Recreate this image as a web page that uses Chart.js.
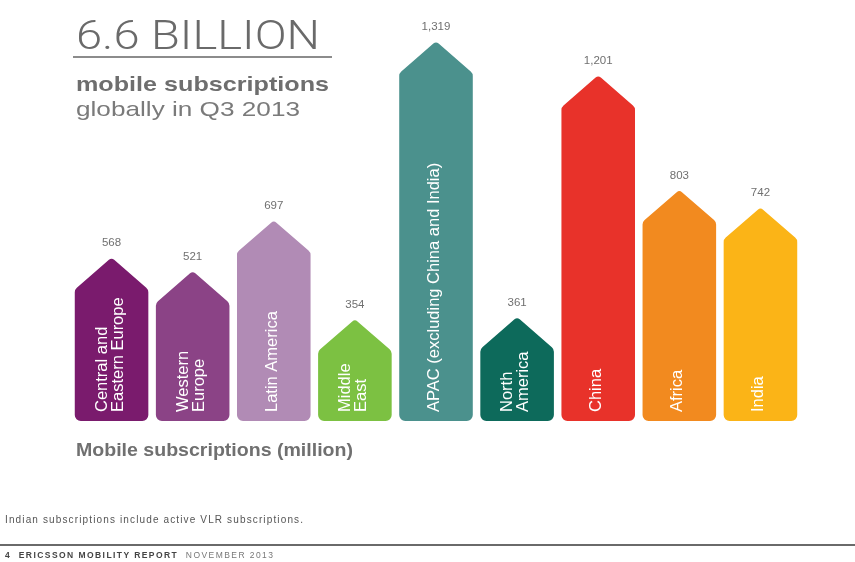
<!DOCTYPE html>
<html><head><meta charset="utf-8">
<script src="https://cdn.jsdelivr.net/npm/chart.js@4"></script>
<style>
html,body{margin:0;padding:0;background:#fff;}
#wrap{position:relative;width:855px;height:562px;overflow:hidden;background:#fff;}
#c{position:absolute;left:0;top:0;}
.t{position:absolute;white-space:nowrap;transform-origin:0 0;line-height:1;}
</style></head><body>
<div id="wrap">
<canvas id="c" width="855" height="562"></canvas>
<div class="t" id="big" style="left:76px;top:12px;font:300 40px Roboto;color:#6a6a6a">6.6 BILLION</div>
<div style="position:absolute;left:73px;top:56px;width:259px;height:2px;background:#8c8c8c"></div>
<div class="t" id="sub1" style="left:76px;top:72px;font:bold 21px 'Liberation Sans';color:#6e6e6e">mobile subscriptions</div>
<div class="t" id="sub2" style="left:76px;top:97px;font:21px 'Liberation Sans';color:#7a7a7a">globally in Q3 2013</div>
<div class="t" id="axis" style="left:76px;top:439px;font:bold 19px 'Liberation Sans';color:#707070">Mobile subscriptions (million)</div>
<div class="t" id="note" style="left:5px;top:513.5px;font:10px 'Liberation Sans';color:#555">Indian subscriptions include active VLR subscriptions.</div>
<div style="position:absolute;left:0;top:544px;width:855px;height:2px;background:#6a6a6a"></div>
<div class="t" id="foot" style="left:5px;top:550px;font:8.5px 'Liberation Sans';color:#444"><b>4&nbsp;&nbsp;ERICSSON MOBILITY REPORT</b>&nbsp;&nbsp;<span style="color:#777">NOVEMBER 2013</span></div>
</div>
<script>
// ---- data ----
const categories = [
  ["Central and", "Eastern Europe"],
  ["Western", "Europe"],
  ["Latin America"],
  ["Middle", "East"],
  ["APAC (excluding China and India)"],
  ["North", "America"],
  ["China"],
  ["Africa"],
  ["India"]
];
const subscriptions = [568, 521, 697, 354, 1319, 361, 1201, 803, 742];
const barColors = ["#7a1b6d", "#8b4386", "#b18bb5", "#7cc142", "#4b918d", "#0d6a5b", "#e8322a", "#f28a1f", "#fbb417"];

// ---- arrow-shaped bars drawn from the library's bar elements ----
const arrowPlugin = {
  id: 'arrows',
  afterDatasetsDraw(chart) {
    const ctx = chart.ctx;
    const meta = chart.getDatasetMeta(0);
    meta.data.forEach((bar, i) => {
      const p = bar.getProps(['x', 'y', 'base', 'width'], true);
      const x = p.x, y = p.y, base = p.base, w = p.width;
      const l = x - w / 2, r = x + w / 2, sh = y + w * 0.435;
      ctx.save();
      ctx.beginPath();
      ctx.moveTo(x, base);
      ctx.arcTo(r, base, r, sh, 6);
      ctx.arcTo(r, sh, x, y, 6);
      ctx.arcTo(x, y, l, sh, 4);
      ctx.arcTo(l, sh, l, base, 6);
      ctx.arcTo(l, base, x, base, 6);
      ctx.closePath();
      ctx.fillStyle = barColors[i];
      ctx.fill();
      ctx.restore();

      // value label
      ctx.save();
      ctx.translate(x, y - 14);
      ctx.scale(1.15, 1);
      ctx.font = '10px "Liberation Sans"';
      ctx.fillStyle = '#707070';
      ctx.textAlign = 'center';
      ctx.textBaseline = 'middle';
      ctx.fillText(subscriptions[i].toLocaleString('en-US'), 0, 0);
      ctx.restore();

      // rotated category label
      const lines = categories[i];
      ctx.save();
      ctx.translate(x - 1.5, base - 9);
      ctx.rotate(-Math.PI / 2);
      ctx.font = '16.5px "Liberation Sans"';
      ctx.fillStyle = '#ffffff';
      ctx.textAlign = 'left';
      ctx.textBaseline = 'middle';
      const lh = 16;
      lines.forEach((t, k) => {
        ctx.fillText(t, 0, (k - (lines.length - 1) / 2) * lh);
      });
      ctx.restore();
    });
  }
};

function fit(id, w, mode) {
  const el = document.getElementById(id);
  const cur = el.getBoundingClientRect().width;
  if (mode === 'ls') {
    const n = el.textContent.length - 1;
    el.style.letterSpacing = ((w - cur) / n) + 'px';
  } else {
    el.style.transform = 'scaleX(' + (w / cur) + ')';
  }
}

function build() {
  fit('big', 244);
  fit('sub1', 253);
  fit('sub2', 224);
  fit('axis', 277);
  fit('note', 298, 'ls');
  fit('foot', 268, 'ls');
  new Chart(document.getElementById('c'), {
    type: 'bar',
    data: {
      labels: categories,
      datasets: [{
        data: subscriptions,
        backgroundColor: 'rgba(0,0,0,0)',
        borderWidth: 0,
        categoryPercentage: 1,
        barPercentage: 0.907
      }]
    },
    options: {
      responsive: false,
      animation: false,
      layout: { padding: { left: 71, right: 54, top: 18, bottom: 141 } },
      scales: {
        x: { display: false },
        y: { display: false, min: 0, max: 1400 }
      },
      plugins: { legend: { display: false }, tooltip: { enabled: false } }
    },
    plugins: [arrowPlugin]
  });
}
Promise.all([
  document.fonts.load('300 40px Roboto'),
  document.fonts.load('15px "Liberation Sans"'),
  document.fonts.load('bold 15px "Liberation Sans"')
]).then(build, build);
</script>
</body></html>
